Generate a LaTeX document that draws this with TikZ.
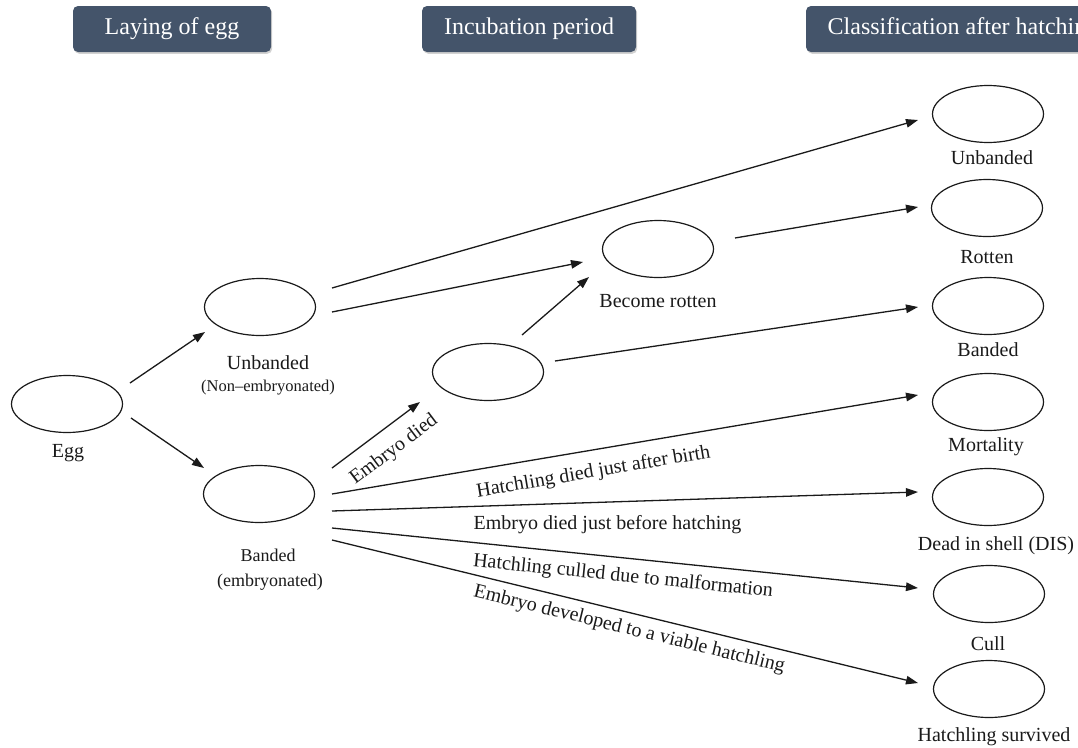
\documentclass[tikz,border=0pt]{standalone}
\usepackage{fontspec}
\setmainfont{Liberation Serif}
\usetikzlibrary{shapes.geometric,arrows.meta,calc,shadows}
\definecolor{hdr}{HTML}{44546A}
\definecolor{ink}{HTML}{1A1A1A}
\begin{document}
\begin{tikzpicture}[x=1pt,y=-1pt,
  egg/.style={ellipse,draw=ink,line width=1.2pt,minimum width=111pt,minimum height=57pt,inner sep=0pt},
  lbl/.style={anchor=base,inner sep=0pt,text=ink,font=\fontsize{20}{22}\selectfont},
  sml/.style={anchor=base,inner sep=0pt,text=ink,font=\fontsize{16.5}{18}\selectfont},
  mid/.style={anchor=base,inner sep=0pt,text=ink,font=\fontsize{18}{20}\selectfont},
  hbox/.style={rounded corners=5pt,fill=hdr,minimum height=46pt,text=white,
    font=\fontsize{24}{26}\selectfont,inner sep=0pt,
    drop shadow={opacity=0.35,shadow xshift=1.2pt,shadow yshift=-1.8pt}},
  arr/.style={draw=ink,line width=1.3pt,-{Triangle[length=12pt,width=8.5pt]}},
  elab/.style={sloped,anchor=north,inner xsep=0pt,text=ink,font=\fontsize{20}{22}\selectfont}
]
\useasboundingbox (0,0) rectangle (1078,747);
\clip (0,0) rectangle (1078,747);
\fill[white] (0,0) rectangle (1078,747);

% header boxes
\node[hbox,minimum width=198pt] (h1) at (172,29) {Laying of egg};
\node[hbox,minimum width=214pt] (h2) at (529,29) {Incubation period};
\node[hbox,minimum width=314pt] (h3) at (963,29) {Classification after hatching};

% ellipses
\node[egg] (egg) at (67,404) {};
\node[egg] (ub) at (260,307) {};
\node[egg] (bd) at (259,494) {};
\node[egg] (ed) at (488,372) {};
\node[egg] (br) at (658,249) {};
\node[egg] (r1) at (988,114) {};
\node[egg] (r2) at (987,208) {};
\node[egg] (r3) at (988,306) {};
\node[egg] (r4) at (988,402) {};
\node[egg] (r5) at (988,497) {};
\node[egg] (r6) at (989,594) {};
\node[egg] (r7) at (989,689) {};

% labels
\node[lbl] (l-egg) at (68,457) {Egg};
\node[lbl] (l-ub) at (268,369) {Unbanded};
\node[sml] (l-ub2) at (268,391) {(Non–embryonated)};
\node[mid] (l-bd) at (268,561) {Banded};
\node[mid] (l-bd2) at (270,586) {(embryonated)};
\node[lbl] (l-br) at (658,307) {Become rotten};
\node[lbl] (l-r1) at (992,164) {Unbanded};
\node[lbl] (l-r2) at (987,263) {Rotten};
\node[lbl] (l-r3) at (988,356) {Banded};
\node[lbl] (l-r4) at (986,451) {Mortality};
\node[lbl] (l-r5) at (996,550) {Dead in shell (DIS)};
\node[lbl] (l-r6) at (988,650) {Cull};
\node[lbl] (l-r7) at (994,741) {Hatchling survived};

% connectors
\draw[arr] ($(egg)+(63,-21)$) -- ($(ub)+(-55,25)$);
\draw[arr] ($(egg)+(64,14)$) -- ($(bd)+(-55,-26)$);
\draw[arr] ($(ub)+(72,-19)$) -- ($(r1)+(-70,6)$);
\draw[arr] ($(ub)+(72,5)$) -- ($(br)+(-75,13)$);
\draw[arr] ($(br)+(77,-11)$) -- ($(r2)+(-69,-1)$);
\draw[arr] ($(ed)+(34,-37)$) -- ($(br)+(-69,28)$);
\draw[arr] ($(ed)+(67,-11)$) -- ($(r3)+(-70,1)$);
\draw[arr] ($(bd)+(73,-26)$) -- node[elab,pos=0.55,inner ysep=13pt] {Embryo died} ($(ed)+(-68,30)$);
\draw[arr] ($(bd)+(73,0)$) -- node[elab,pos=0.44,inner ysep=12.5pt] {Hatchling died just after birth} ($(r4)+(-70,-7)$);
\draw[arr] ($(bd)+(73,17)$) -- node[elab,sloped=false,pos=0.47,inner ysep=13pt] {Embryo died just before hatching} ($(r5)+(-70,-5)$);
\draw[arr] ($(bd)+(73,34)$) -- node[elab,pos=0.5,inner ysep=9pt] {Hatchling culled due to malformation} ($(r6)+(-71,-6)$);
\draw[arr] ($(bd)+(73,46)$) -- node[elab,pos=0.514,inner ysep=7pt] {Embryo developed to a viable hatchling} ($(r7)+(-71,-6)$);
\end{tikzpicture}
\end{document}
